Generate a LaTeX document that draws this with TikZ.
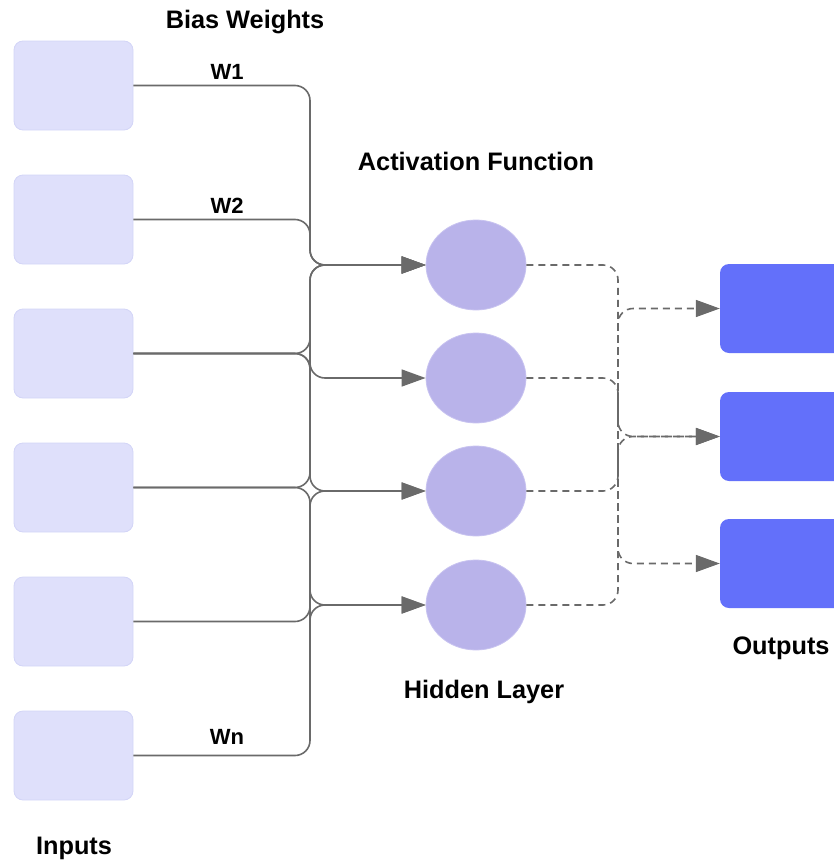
\documentclass[tikz,border=0pt]{standalone}
\usepackage{fontspec}
\setmainfont{Liberation Sans}
\usetikzlibrary{arrows.meta,shapes.geometric}

\definecolor{inbox}{HTML}{DFE0FB}
\definecolor{inedge}{HTML}{D3D5F7}
\definecolor{hidfill}{HTML}{B9B3EA}
\definecolor{hidedge}{HTML}{C8C3F0}
\definecolor{outfill}{HTML}{6370FA}
\definecolor{wirecol}{HTML}{6A6A6A}

\tikzset{
  inputbox/.style={rectangle, rounded corners=9pt, fill=inbox, draw=inedge, line width=0.8pt,
    minimum width=119pt, minimum height=89pt, inner sep=0pt},
  hiddennode/.style={ellipse, fill=hidfill, draw=hidedge, line width=0.8pt,
    minimum width=100pt, minimum height=90pt, inner sep=0pt},
  outputbox/.style={rectangle, rounded corners=9pt, fill=outfill, draw=none,
    minimum width=128pt, minimum height=89pt, inner sep=0pt},
  wire/.style={draw=wirecol, line width=1.6pt, rounded corners=15pt,
    -{Triangle[length=24pt,width=17pt]}},
  dashwire/.style={draw=wirecol, line width=1.6pt, rounded corners=15pt,
    dash pattern=on 7pt off 5pt, -{Triangle[length=24pt,width=17pt]}},
  title/.style={font=\bfseries\fontsize{25.3}{30}\selectfont, text=black, inner sep=0pt},
  wlabel/.style={font=\bfseries\fontsize{22}{26}\selectfont, text=black, inner sep=0pt}
}

\begin{document}
\begin{tikzpicture}[x=1pt,y=-1pt]
  \useasboundingbox (0,0) rectangle (833,862);

  % input column
  \node[inputbox] (in1) at (73.5,85.5) {};
  \node[inputbox] (in2) at (73.5,219.5) {};
  \node[inputbox] (in3) at (73.5,353.5) {};
  \node[inputbox] (in4) at (73.5,487.5) {};
  \node[inputbox] (in5) at (73.5,621.5) {};
  \node[inputbox] (in6) at (73.5,755.5) {};

  % hidden layer
  \node[hiddennode] (h1) at (476,265) {};
  \node[hiddennode] (h2) at (476,378) {};
  \node[hiddennode] (h3) at (476,491) {};
  \node[hiddennode] (h4) at (476,605) {};

  % output column (runs past the right edge)
  \node[outputbox] (o1) at (784,308.5) {};
  \node[outputbox] (o2) at (784,436.5) {};
  \node[outputbox] (o3) at (784,563.5) {};

  % shared vertical buses
  \coordinate (bus) at (310,0);
  \coordinate (dbus) at (618,0);

  % weighted connections into the hidden layer
  \draw[wire] (in1.east) -| (bus |- h1.west) -- (h1.west);
  \draw[wire] (in2.east) -| (bus |- h1.west) -- (h1.west);
  \draw[wire] (in3.east) -| (bus |- h1.west) -- (h1.west);
  \draw[wire] (in3.east) -| (bus |- h2.west) -- (h2.west);
  \draw[wire] (in3.east) -| (bus |- h3.west) -- (h3.west);
  \draw[wire] (in4.east) -| (bus |- h1.west) -- (h1.west);
  \draw[wire] (in4.east) -| (bus |- h4.west) -- (h4.west);
  \draw[wire] (in5.east) -| (bus |- h4.west) -- (h4.west);
  \draw[wire] (in6.east) -| (bus |- h3.west) -- (h3.west);

  % hidden layer to outputs
  \draw[dashwire] (h1.east) -| (dbus |- o3.west) -- (o3.west);
  \draw[dashwire] (h2.east) -| (dbus |- o2.west) -- (o2.west);
  \draw[dashwire] (h3.east) -| (dbus |- o2.west) -- (o2.west);
  \draw[dashwire] (h4.east) -| (dbus |- o1.west) -- (o1.west);

  % labels
  \node[title] (tbias) at (245,22) {Bias Weights};
  \node[title] (tact) at (476,161) {Activation Function};
  \node[title] (thid) at (484,692) {Hidden Layer};
  \node[title] (tout) at (781,648) {Outputs};
  \node[title] (tin) at (74,848) {Inputs};
  \node[wlabel] (w1) at (227,72) {W1};
  \node[wlabel] (w2) at (227,206) {W2};
  \node[wlabel] (wn) at (227,737) {Wn};
\end{tikzpicture}
\end{document}
